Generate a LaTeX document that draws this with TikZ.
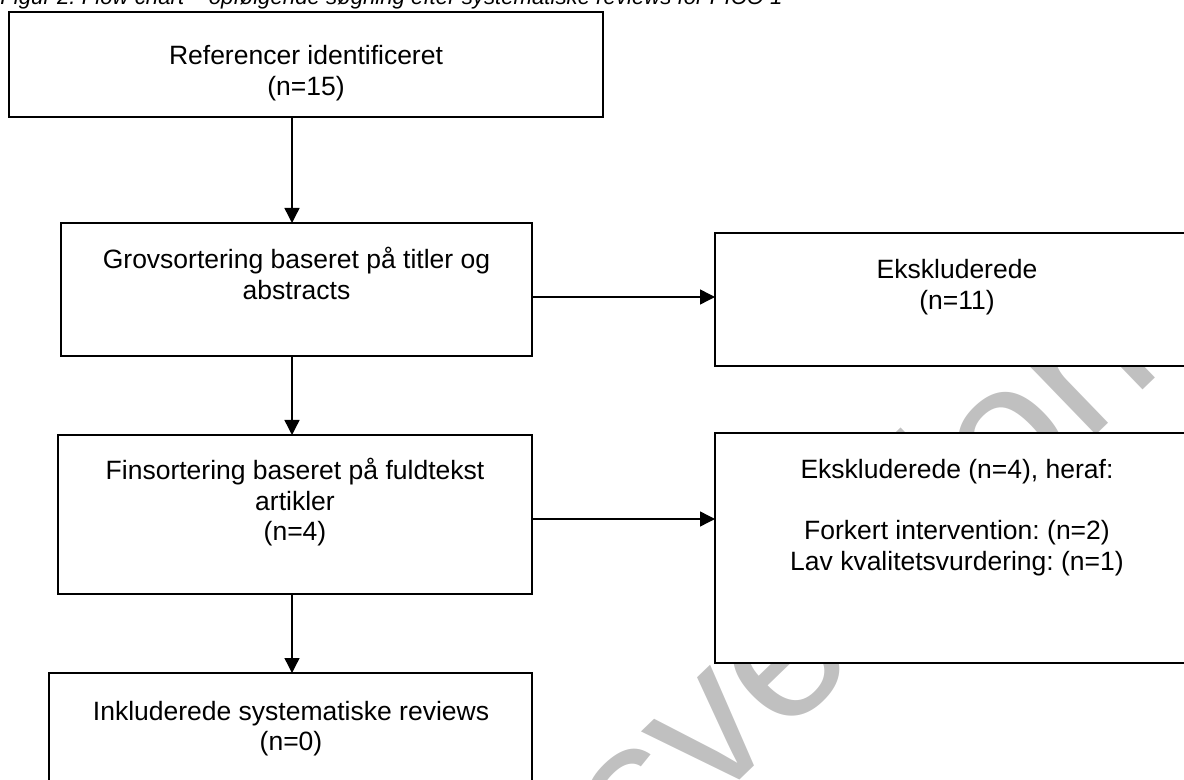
\documentclass[tikz,border=0pt]{standalone}
\usepackage{fontspec}
\setmainfont{Liberation Sans}
\usetikzlibrary{arrows.meta}
\definecolor{wmgray}{RGB}{192,192,192}
% one row of centred lines, baseline on the first line
\newcommand\boxlines[1]{\begin{tabular}[t]{@{}c@{}}#1\end{tabular}}
\frenchspacing
\begin{document}
\begin{tikzpicture}[x=0.5pt,y=-0.5pt,
  box/.style={draw=black, line width=0.9pt, fill=white, rectangle,
    inner sep=0pt, outer sep=0pt, anchor=north west},
  lbl/.style={inner sep=0pt, anchor=base,
    font=\fontsize{13.25pt}{15.25pt}\selectfont},
  arr/.style={line width=0.7pt, -{Triangle[length=7.5pt,width=7.5pt]}},
  wmark/.style={inner sep=0pt, anchor=base east, rotate=44, text=wmgray,
    font=\fontsize{97.5pt}{97.5pt}\selectfont},
  caption/.style={inner sep=0pt, anchor=base west,
    font=\itshape\fontsize{11.1pt}{13pt}\selectfont},
]
\useasboundingbox (0,0) rectangle (1184,780);
\clip (0,0) rectangle (1184,780);

% watermark behind the boxes
\node[wmark] (wm) at (1165,369) {Høringsversion};

% caption line
\node[caption] (cap) at (0,4.5)
  {Figur 2. Flow chart – opfølgende søgning efter systematiske reviews for PICO 1};

% boxes
\node[box, minimum width=297pt,   minimum height=52.5pt] (A)  at (9,12)    {};
\node[box, minimum width=235.5pt, minimum height=66.5pt] (B)  at (61,223)  {};
\node[box, minimum width=242pt,   minimum height=66.5pt] (E1) at (715,233) {};
\node[box, minimum width=237pt,   minimum height=79.5pt] (C)  at (58,435)  {};
\node[box, minimum width=242pt,   minimum height=115pt]  (E2) at (715,433) {};
\node[box, minimum width=241.5pt, minimum height=73.5pt] (D)  at (49,673)  {};

% texts
\node[lbl] (At)  at (306,65)  {\boxlines{Referencer identificeret\\(n=15)}};
\node[lbl] (Bt)  at (296.5,269) {\boxlines{Grovsortering baseret på titler og\\abstracts}};
\node[lbl] (E1t) at (957,279) {\boxlines{Ekskluderede\\(n=11)}};
\node[lbl] (Ct)  at (295,480) {\boxlines{Finsortering baseret på fuldtekst\\artikler\\(n=4)}};
\node[lbl] (E2t) at (957,479) {\boxlines{Ekskluderede (n=4), heraf:\\ \\Forkert intervention: (n=2)\\Lav kvalitetsvurdering: (n=1)}};
\node[lbl] (Dt)  at (291,720) {\boxlines{Inkluderede systematiske reviews\\(n=0)}};

% guide lines for the connectors
\coordinate (spine) at (292,0);
\coordinate (row1) at (0,297);
\coordinate (row2) at (0,519);

% connectors
\draw[arr] (A.south -| spine) -- (B.north -| spine);
\draw[arr] (B.south -| spine) -- (C.north -| spine);
\draw[arr] (C.south -| spine) -- (D.north -| spine);
\draw[arr] (B.east |- row1) -- (E1.west |- row1);
\draw[arr] (C.east |- row2) -- (E2.west |- row2);
\end{tikzpicture}
\end{document}
